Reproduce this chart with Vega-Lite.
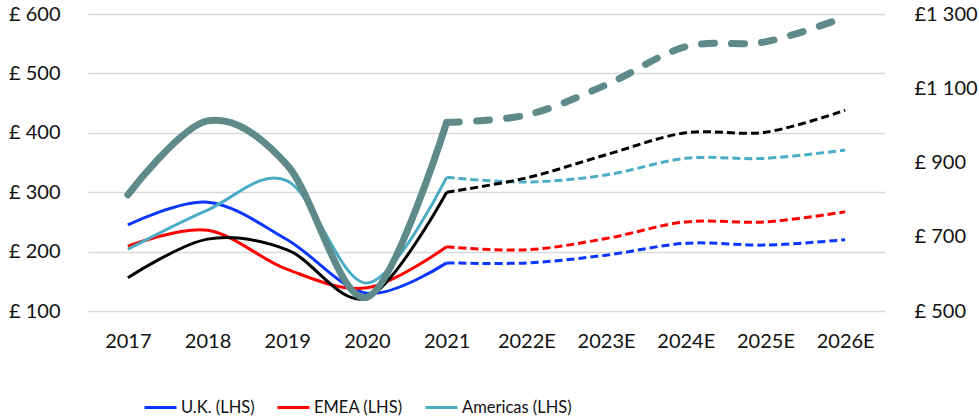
{
  "$schema": "https://vega.github.io/schema/vega-lite/v6.json",
  "autosize": "none",
  "width": 797,
  "height": 297,
  "padding": {"left": 88, "top": 14, "right": 94, "bottom": 108},
  "background": "white",
  "config": {
    "view": {"stroke": null},
    "font": "Lato",
    "axis": {"labelFont": "Lato", "labelFontSize": 20, "labelColor": "#111111", "ticks": false, "domain": false, "title": null}
  },
  "data": {
    "values": [
      {"year": "2017", "series": "U.K. (LHS)", "value": 245},
      {"year": "2018", "series": "U.K. (LHS)", "value": 283},
      {"year": "2019", "series": "U.K. (LHS)", "value": 220},
      {"year": "2020", "series": "U.K. (LHS)", "value": 130},
      {"year": "2021", "series": "U.K. (LHS)", "value": 181},
      {"year": "2022E", "series": "U.K. (LHS)", "value": 181},
      {"year": "2023E", "series": "U.K. (LHS)", "value": 194},
      {"year": "2024E", "series": "U.K. (LHS)", "value": 214},
      {"year": "2025E", "series": "U.K. (LHS)", "value": 211},
      {"year": "2026E", "series": "U.K. (LHS)", "value": 220},
      {"year": "2017", "series": "EMEA (LHS)", "value": 209},
      {"year": "2018", "series": "EMEA (LHS)", "value": 236},
      {"year": "2019", "series": "EMEA (LHS)", "value": 170},
      {"year": "2020", "series": "EMEA (LHS)", "value": 139},
      {"year": "2021", "series": "EMEA (LHS)", "value": 208},
      {"year": "2022E", "series": "EMEA (LHS)", "value": 203},
      {"year": "2023E", "series": "EMEA (LHS)", "value": 222},
      {"year": "2024E", "series": "EMEA (LHS)", "value": 250},
      {"year": "2025E", "series": "EMEA (LHS)", "value": 250},
      {"year": "2026E", "series": "EMEA (LHS)", "value": 267},
      {"year": "2017", "series": "Americas (LHS)", "value": 204},
      {"year": "2018", "series": "Americas (LHS)", "value": 270},
      {"year": "2019", "series": "Americas (LHS)", "value": 319},
      {"year": "2020", "series": "Americas (LHS)", "value": 147},
      {"year": "2021", "series": "Americas (LHS)", "value": 325},
      {"year": "2022E", "series": "Americas (LHS)", "value": 317},
      {"year": "2023E", "series": "Americas (LHS)", "value": 329},
      {"year": "2024E", "series": "Americas (LHS)", "value": 357},
      {"year": "2025E", "series": "Americas (LHS)", "value": 357},
      {"year": "2026E", "series": "Americas (LHS)", "value": 371},
      {"year": "2017", "series": "APAC (LHS)", "value": 156},
      {"year": "2018", "series": "APAC (LHS)", "value": 221},
      {"year": "2019", "series": "APAC (LHS)", "value": 203},
      {"year": "2020", "series": "APAC (LHS)", "value": 122},
      {"year": "2021", "series": "APAC (LHS)", "value": 300},
      {"year": "2022E", "series": "APAC (LHS)", "value": 324},
      {"year": "2023E", "series": "APAC (LHS)", "value": 363},
      {"year": "2024E", "series": "APAC (LHS)", "value": 400},
      {"year": "2025E", "series": "APAC (LHS)", "value": 401},
      {"year": "2026E", "series": "APAC (LHS)", "value": 438},
      {"year": "2017", "series": "Total (RHS)", "value": 813},
      {"year": "2018", "series": "Total (RHS)", "value": 1012},
      {"year": "2019", "series": "Total (RHS)", "value": 893},
      {"year": "2020", "series": "Total (RHS)", "value": 537},
      {"year": "2021", "series": "Total (RHS)", "value": 1008},
      {"year": "2022E", "series": "Total (RHS)", "value": 1028},
      {"year": "2023E", "series": "Total (RHS)", "value": 1109},
      {"year": "2024E", "series": "Total (RHS)", "value": 1212},
      {"year": "2025E", "series": "Total (RHS)", "value": 1225},
      {"year": "2026E", "series": "Total (RHS)", "value": 1292}
    ]
  },
  "encoding": {
    "x": {
      "field": "year", "type": "nominal", "sort": null,
      "scale": {"type": "point", "padding": 0.5},
      "axis": {"labelAngle": 0, "labelPadding": 20, "grid": false}
    },
    "color": {
      "field": "series", "type": "nominal",
      "scale": {
        "domain": ["U.K. (LHS)", "EMEA (LHS)", "Americas (LHS)", "APAC (LHS)", "Total (RHS)"],
        "range": ["#0a36ff", "#ff0000", "#4bacc6", "#000000", "#5f8a8a"]
      },
      "legend": {
        "values": ["U.K. (LHS)", "EMEA (LHS)", "Americas (LHS)"],
        "orient": "none", "legendX": 55, "legendY": 376,
        "direction": "horizontal", "title": null,
        "symbolType": "stroke", "symbolSize": 1024, "symbolStrokeWidth": 3,
        "labelFont": "Lato", "labelFontSize": 16.5, "labelColor": "#111111",
        "labelOffset": 3, "columnPadding": 16
      }
    }
  },
  "layer": [
    {
      "layer": [
        {
          "transform": [
            {"filter": {"field": "series", "oneOf": ["U.K. (LHS)", "EMEA (LHS)", "Americas (LHS)", "APAC (LHS)"]}},
            {"filter": {"field": "year", "oneOf": ["2017", "2018", "2019", "2020", "2021"]}}
          ],
          "mark": {"type": "line", "interpolate": "cardinal", "strokeWidth": 3},
          "encoding": {
            "y": {
              "field": "value", "type": "quantitative",
              "scale": {"domain": [100, 600], "nice": false, "zero": false},
              "axis": {
                "values": [100, 200, 300, 400, 500, 600], "grid": true,
                "gridColor": "#d9d9d9", "gridWidth": 1.5, "labelPadding": 28,
                "labelExpr": "'£ ' + datum.value"
              }
            }
          }
        },
        {
          "transform": [
            {"filter": {"field": "series", "oneOf": ["U.K. (LHS)", "EMEA (LHS)", "Americas (LHS)", "APAC (LHS)"]}},
            {"filter": {"field": "year", "oneOf": ["2021", "2022E", "2023E", "2024E", "2025E", "2026E"]}}
          ],
          "mark": {"type": "line", "interpolate": "cardinal", "strokeWidth": 3, "strokeDash": [8, 4]},
          "encoding": {
            "y": {"field": "value", "type": "quantitative"}
          }
        }
      ]
    },
    {
      "layer": [
        {
          "transform": [
            {"filter": {"field": "series", "equal": "Total (RHS)"}},
            {"filter": {"field": "year", "oneOf": ["2017", "2018", "2019", "2020", "2021"]}}
          ],
          "mark": {"type": "line", "interpolate": "cardinal", "strokeWidth": 7, "strokeCap": "round"},
          "encoding": {
            "y": {
              "field": "value", "type": "quantitative",
              "scale": {"domain": [500, 1300], "nice": false, "zero": false},
              "axis": {
                "orient": "right", "values": [500, 700, 900, 1100, 1300], "grid": false,
                "labelPadding": 29, "labelAlign": "left",
                "labelExpr": "datum.value >= 1000 ? '£' + floor(datum.value / 1000) + ' ' + format(datum.value % 1000, '03d') : '£ ' + datum.value"
              }
            }
          }
        },
        {
          "transform": [
            {"filter": {"field": "series", "equal": "Total (RHS)"}},
            {"filter": {"field": "year", "oneOf": ["2021", "2022E", "2023E", "2024E", "2025E", "2026E"]}}
          ],
          "mark": {"type": "line", "interpolate": "cardinal", "strokeWidth": 7, "strokeCap": "round", "strokeDash": [13, 17]},
          "encoding": {
            "y": {"field": "value", "type": "quantitative"}
          }
        }
      ]
    }
  ],
  "resolve": {"scale": {"y": "independent"}}
}
